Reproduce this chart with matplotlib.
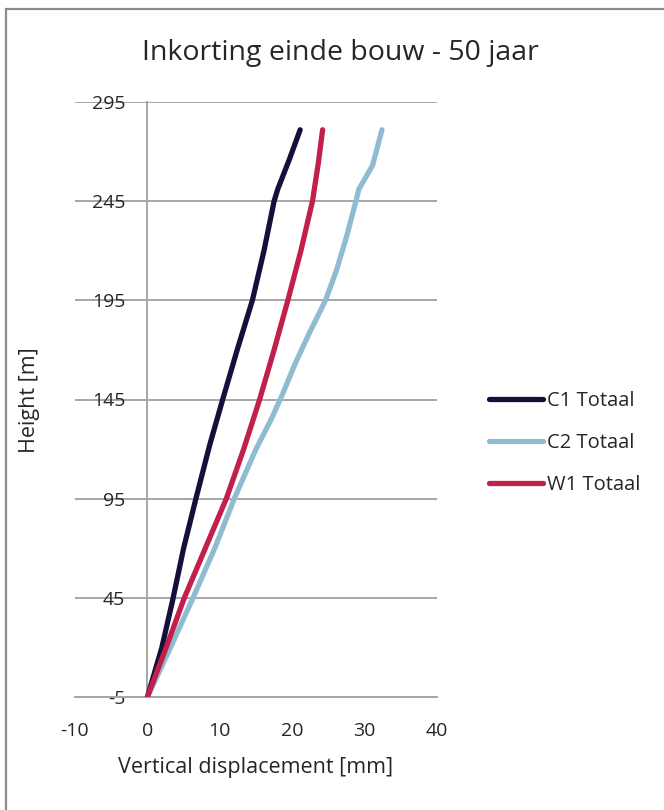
import matplotlib
matplotlib.use("Agg")
import matplotlib.pyplot as plt
from matplotlib.patches import Rectangle

plt.rcParams['font.family'] = ['Open Sans', 'DejaVu Sans']

# Vertical displacement [mm] vs height [m] per element
c1_disp = [0.0, 2.0, 3.5, 5.0, 6.7, 8.6, 10.4, 12.4, 14.5, 16.1, 17.5, 18.0, 19.6, 21.1]
c1_height = [-5, 20, 44, 70, 95, 122, 145, 170, 195, 220, 245, 251, 266, 281]

c2_disp = [0.0, 3.2, 6.3, 9.3, 12.0, 15.0, 17.1, 18.7, 20.4, 22.3, 24.6, 26.1, 27.5, 28.8, 29.2, 31.1, 32.4]
c2_height = [-5, 20, 45, 70, 95, 120, 135, 148, 163, 178, 195, 210, 227, 245, 251, 263, 281]

w1_disp = [0.0, 2.6, 5.1, 8.0, 10.9, 13.3, 15.5, 17.5, 19.4, 21.2, 22.8, 23.6, 24.2]
w1_height = [-5, 20, 45, 70, 95, 120, 145, 170, 195, 220, 245, 264, 281]

series_names = ["C1 Totaal", "C2 Totaal", "W1 Totaal"]
series_colors = ["#150f3c", "#8fbcd0", "#c11f4c"]

x_ticks = [-10, 0, 10, 20, 30, 40]
y_ticks = [-5, 45, 95, 145, 195, 245, 295]

W, H = 664, 810
fig = plt.figure(figsize=(W / 100, H / 100), dpi=100)
fig.patch.set_facecolor("white")

# chart-area frame
fig.add_artist(Rectangle((6 / W, 0 - 0.01), 1.5, 1 - 9 / H + 0.01,
                         transform=fig.transFigure, fill=False,
                         edgecolor="#8c8c8c", linewidth=1.6))

ax = fig.add_axes([75 / W, 1 - 697 / H, (437 - 75) / W, (697 - 102) / H])

grid_col = "#a6a6a6"
text_col = "#262626"
for yt in y_ticks:
    ax.axhline(yt, color=grid_col, linewidth=1.4, zorder=1)

lines = []
for xs, ys, name, col in zip([c1_disp, c2_disp, w1_disp],
                             [c1_height, c2_height, w1_height],
                             series_names, series_colors):
    ln, = ax.plot(xs, ys, color=col, linewidth=3.8, solid_capstyle="round",
                  solid_joinstyle="round", label=name, zorder=3)
    lines.append(ln)

ax.set_xlim(-10, 40)
ax.set_ylim(-5, 295)
ax.set_xticks(x_ticks)
ax.set_yticks(y_ticks)
ax.set_xticklabels([str(v) for v in x_ticks])
ax.set_yticklabels([str(v) for v in y_ticks])

for side in ["top", "right"]:
    ax.spines[side].set_visible(False)
ax.spines["left"].set_position(("data", 0))
ax.spines["left"].set_color(grid_col)
ax.spines["left"].set_linewidth(1.4)
ax.spines["bottom"].set_color(grid_col)
ax.spines["bottom"].set_linewidth(1.4)
ax.spines["left"].set_zorder(2)

ax.tick_params(axis="y", length=0, pad=16, labelsize=14, labelcolor=text_col)
ax.tick_params(axis="x", length=0, pad=18, labelsize=14, labelcolor=text_col)
for lbl in ax.get_yticklabels():
    lbl.set_zorder(4)

ax.set_xlabel("Vertical displacement [mm]", fontsize=15.5, color=text_col, labelpad=12)
fig.text(30 / W, 1 - 400 / H, "Height [m]", rotation=90, ha="center", va="center",
         fontsize=15.5, color=text_col)

fig.text(340 / W, 1 - 53 / H, "Inkorting einde bouw - 50 jaar", ha="center",
         va="center", fontsize=20.5, color=text_col)

fig.legend(handles=lines, loc="center left", bbox_to_anchor=(489 / W, 1 - 443 / H),
           frameon=False, fontsize=14.5, handlelength=2.7, handletextpad=0.2,
           labelspacing=1.1, borderpad=0, borderaxespad=0, labelcolor=text_col)

fig.savefig("out.png", dpi=100, facecolor="white")
